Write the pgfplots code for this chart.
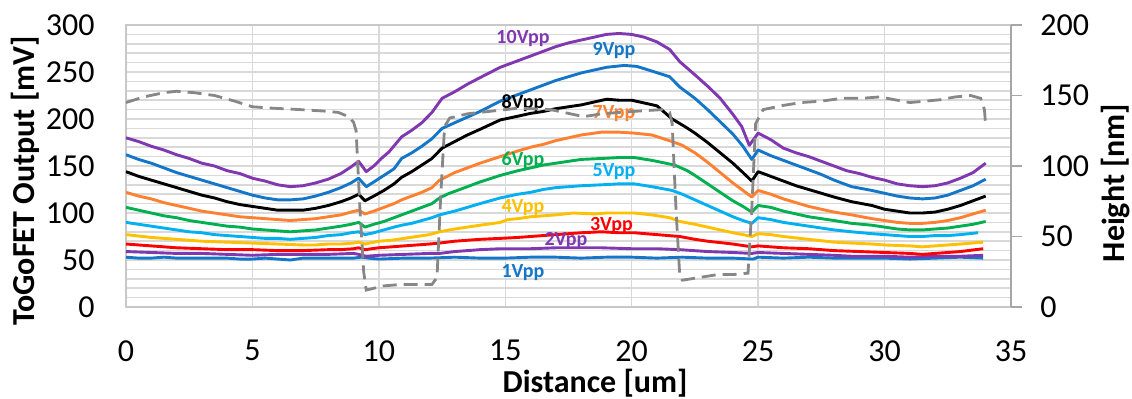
\documentclass[border=0pt]{standalone}
\usepackage{fontspec}
\setmainfont{Carlito}
\usepackage{pgfplots}
\pgfplotsset{compat=1.18}

\definecolor{cPurple}{RGB}{128,56,176}
\definecolor{cBlue}{RGB}{20,118,200}
\definecolor{cOrange}{RGB}{255,128,48}
\definecolor{cGreen}{RGB}{0,176,80}
\definecolor{cCyan}{RGB}{0,176,240}
\definecolor{cYellow}{RGB}{255,192,0}
\definecolor{cRed}{RGB}{255,0,0}
\definecolor{cGrid}{RGB}{217,217,217}
\definecolor{cAxis}{RGB}{200,200,200}
\definecolor{cAxisDark}{RGB}{166,166,166}
\definecolor{cHeight}{RGB}{135,135,135}

\pgfplotsset{
  common/.style={
    at={(0,0)}, anchor=south west,
    scale only axis, width=442.5pt, height=141pt,
    xmin=0, xmax=35,
    /pgf/number format/assume math mode=true,
    ticklabel style={font=\fontsize{16}{19}\selectfont, inner sep=0pt},
    label style={font=\bfseries\fontsize{16}{19}\selectfont},
  },
  sig/.style={line width=1.45pt, line join=round},
}

\begin{document}
\begin{tikzpicture}
\path[use as bounding box] (-63pt,-45.5pt) rectangle (503pt,153.5pt);

% ToGoFET output for each drive amplitude
\begin{axis}[
  common,
  ymin=0, ymax=300,
  xtick={0,5,...,35}, ytick={0,50,...,300},
  minor ytick={10,20,...,290},
  grid=both,
  major grid style={cGrid, line width=0.75pt},
  minor grid style={cGrid, line width=0.75pt},
  axis line style={cAxis, line width=0.75pt},
  tick style={draw=none},
  yticklabel style={anchor=east, xshift=-15.5pt},
  xticklabel style={anchor=north, yshift=-16.5pt},
  xlabel={Distance [um]},
  ylabel={ToGoFET Output [mV]},
  xlabel style={at={([yshift=-42.5pt]axis description cs:0.53,0)}, anchor=base},
  ylabel style={at={([xshift=-45.5pt]axis description cs:0,0.447)}, anchor=base, rotate=0},
]
% 1 Vpp
\addplot[sig, cBlue] coordinates {(0,53)(0.5,52)(1,52)(1.5,53)(2,52)(3,52)(4,52)(4.5,51)(5,51)(5.5,52)(6,51)(6.5,50)(7,52)(8,52)(9,52)(9.3,53)(9.6,52)(10,51)(11,52)(12,52)(13,53)(14,52)(15,52)(16,53)(17,53)(18,52)(19,53)(20,53)(21,52)(22,53)(23,52)(24,52)(24.8,51)(25,53)(26,52)(27,53)(28,52)(29,52)(30,52)(31,51)(32,52)(33,53)(33.9,52)};
% 2 Vpp
\addplot[sig, cPurple] coordinates {(0,59)(1,58)(2,57)(3,57)(4,56)(5,55)(6,56)(7,56)(8,56)(9,57)(9.2,56)(9.5,54)(10,55)(11,56)(12,57)(12.4,57)(13,59)(14,61)(14.8,62)(16,62)(17,63)(18,63)(18.8,63)(20,62)(21,62)(21.9,61)(23,59)(24,58)(24.75,57)(25,58)(26,57)(27,56)(28,55)(28.7,54)(30,54)(31,53)(32,54)(33,54)(33.9,55)};
% 3 Vpp
\addplot[sig, cRed] coordinates {(0,67)(1,65)(2,63)(3,62)(4,61)(5,61)(6,60)(7,60)(8,61)(8.5,61)(9,62)(9.2,63)(9.45,61)(10,63)(11,65)(12,67)(12.4,68)(13,70)(14,72)(14.8,73)(15.5,74)(16,75)(17,77)(18,79)(18.8,80)(19.5,79)(20.1,79)(21,77)(21.9,75)(22.5,72)(23,70)(24,67)(24.75,64)(25,65)(26,63)(27,62)(28,60)(29,59)(30,58)(31,57)(31.5,56)(32,57)(33,59)(33.9,62)};
% 4 Vpp
\addplot[sig, cYellow] coordinates {(0,77)(1,74)(2,72)(3,70)(4,69)(5,68)(6,67)(7,66)(7.5,66)(8,67)(8.5,67)(9,68)(9.2,69)(9.45,67)(10,70)(10.5,71)(11,73)(11.5,75)(12,77)(12.4,80)(13,83)(13.5,85)(14,87)(14.8,90)(15.1,93)(15.5,94)(16,96)(16.5,97)(17,98)(17.7,100)(18.5,99)(19,100)(19.5,100)(20.1,100)(20.8,98)(21.5,95)(21.9,91)(22.5,88)(23,85)(23.5,82)(24,79)(24.4,77)(24.75,75)(25,78)(25.5,77)(26,75)(27,72)(28,69)(28.7,68)(29.5,67)(30,66)(31,65)(31.5,64)(32,65)(32.5,66)(33,67)(33.9,69)};
% 5 Vpp
\addplot[sig, cCyan] coordinates {(0,90)(0.5,88)(1,86)(1.5,84)(2,82)(2.5,80)(3,79)(3.5,77)(4,76)(4.5,75)(5,74)(5.5,73)(6,73)(6.5,72)(7,73)(7.5,74)(8,76)(8.5,77)(8.9,79)(9.2,80)(9.45,77)(9.8,79)(10.2,82)(10.6,85)(10.9,87)(11.3,89)(11.7,92)(12.1,95)(12.4,98)(12.7,100)(13,102)(13.5,106)(14,110)(14.8,116)(15.5,120)(16,122)(16.5,125)(17,127)(17.5,128)(18,129)(18.8,130)(19.5,131)(20.1,131)(20.8,128)(21.6,124)(22,120)(22.5,114)(23,108)(23.5,102)(24,96)(24.4,92)(24.75,89)(25,95)(25.5,93)(26,90)(26.5,88)(27,86)(27.5,84)(28,82)(28.7,80)(29.5,78)(30,77)(30.5,76)(31,75)(31.5,75)(32,76)(32.5,76)(33,77)(33.7,79)};
% 6 Vpp
\addplot[sig, cGreen] coordinates {(0,106)(0.5,103)(1,100)(1.5,97)(2,95)(2.5,92)(3,90)(3.5,88)(4,86)(4.5,85)(5,83)(5.5,82)(6,81)(6.5,80)(7,81)(7.5,82)(8,84)(8.5,86)(8.9,88)(9.2,90)(9.45,85)(9.8,88)(10.2,91)(10.6,95)(10.9,98)(11.3,102)(11.7,106)(12.1,110)(12.4,116)(12.7,120)(13,123)(13.5,128)(14,133)(14.8,140)(15.5,145)(16,148)(16.5,151)(17,153)(17.5,155)(18,157)(18.8,158)(19.5,159)(20.1,159)(20.8,156)(21.7,151)(22.2,145)(22.5,140)(23,131)(23.5,122)(24,113)(24.4,107)(24.75,101)(25,108)(25.5,106)(26,102)(26.5,99)(27,96)(27.5,94)(28,92)(28.7,89)(29.5,87)(30,85)(30.5,83)(31,82)(31.5,82)(32,83)(32.5,84)(33,86)(33.5,88)(34,91)};
% 7 Vpp
\addplot[sig, cOrange] coordinates {(0,122)(0.5,118)(1,115)(1.5,111)(2,108)(2.5,105)(3,102)(3.5,100)(4,98)(4.5,96)(5,95)(5.5,94)(6,93)(6.5,92)(7,93)(7.5,94)(8,96)(8.5,98)(8.9,101)(9.2,103)(9.45,99)(9.8,102)(10.2,106)(10.6,110)(10.9,114)(11.3,118)(11.7,122)(12.1,127)(12.4,135)(12.7,139)(13,143)(13.5,148)(14,153)(14.8,160)(15.5,166)(16,170)(16.5,173)(17,177)(17.5,180)(18,183)(18.8,186)(19.5,186)(20.1,185)(20.8,183)(21.6,176)(22,172)(22.5,164)(23,154)(23.5,143)(24,132)(24.4,124)(24.75,117)(25,124)(25.5,120)(26,115)(26.5,111)(27,107)(27.5,104)(28,101)(28.7,98)(29.5,94)(30,92)(30.5,90)(31,89)(31.5,89)(32,90)(32.5,92)(33,95)(33.5,99)(34,103)};
% 8 Vpp
\addplot[sig, black] coordinates {(0,144)(0.5,139)(1,135)(1.5,131)(2,127)(2.5,123)(3,119)(3.5,116)(4,112)(4.5,109)(5,107)(5.5,105)(6,103)(6.5,103)(7,103)(7.5,105)(8,108)(8.5,112)(8.9,116)(9.2,120)(9.45,113)(9.8,118)(10.2,124)(10.6,131)(10.9,138)(11.3,144)(11.7,151)(12.1,158)(12.5,169)(13,176)(13.5,183)(14,189)(14.8,199)(15.5,203)(16,206)(16.5,208)(17,211)(17.5,213)(18,215)(18.5,218)(19,221)(19.5,220)(20,220)(20.5,217)(21,214)(21.6,200)(22.1,192)(22.5,185)(23,175)(23.5,164)(24,153)(24.4,143)(24.75,134)(25,144)(25.5,139)(26,134)(26.5,129)(27,125)(27.5,121)(28,117)(28.7,112)(29.5,108)(30,104)(30.5,102)(31,100)(31.5,100)(32,101)(32.5,104)(33,108)(33.5,113)(34,118)};
% 9 Vpp
\addplot[sig, cBlue] coordinates {(0,162)(0.5,157)(1,153)(1.5,148)(2,143)(2.5,139)(3,135)(3.5,131)(4,127)(4.5,123)(5,119)(5.5,116)(6,114)(6.5,114)(7,115)(7.5,118)(8,122)(8.5,127)(8.9,132)(9.2,137)(9.5,128)(9.8,133)(10.2,140)(10.6,147)(10.9,158)(11.3,164)(11.7,171)(12.1,179)(12.5,190)(13,196)(13.5,202)(14,208)(14.8,219)(15.5,226)(16,231)(16.5,236)(17,241)(17.5,245)(18,249)(18.5,252)(19,255)(19.7,257)(20.2,256)(20.8,251)(21.5,245)(21.9,234)(22.5,222)(23,210)(23.5,197)(24,184)(24.4,171)(24.75,157)(25,167)(25.5,161)(26,156)(26.5,151)(27,146)(27.5,141)(28,135)(28.7,128)(29.5,124)(30,121)(30.5,118)(31,116)(31.5,115)(32,116)(32.5,119)(33,124)(33.5,129)(34,136)};
% 10 Vpp
\addplot[sig, cPurple] coordinates {(0,180)(0.5,176)(1,171)(1.5,167)(2,162)(2.5,158)(3,153)(3.5,150)(4,145)(4.5,142)(5,137)(5.5,134)(6,130)(6.5,128)(7,129)(7.5,132)(8,136)(8.5,142)(8.9,149)(9.2,155)(9.5,144)(9.8,150)(10.1,158)(10.4,165)(10.9,181)(11.3,188)(11.7,196)(12.1,207)(12.5,222)(13,229)(13.5,237)(14,244)(14.8,255)(15.5,262)(16,267)(16.5,272)(17,277)(17.5,281)(18,284)(18.5,287)(19,290)(19.5,291)(20,290)(20.5,287)(21,282)(21.5,274)(21.9,261)(22.5,247)(23,235)(23.5,222)(24,205)(24.35,192)(24.65,172)(25,185)(25.5,178)(26,169)(26.5,164)(27,160)(27.5,155)(28,150)(28.5,145)(29,142)(29.5,138)(30,135)(30.5,131)(31,129)(31.5,128)(32,129)(32.5,132)(33,137)(33.5,143)(34,153)};

\begin{scope}[font=\bfseries\fontsize{10}{12}\selectfont]
\node[text=cPurple] at (axis cs:15.7,286) {10Vpp};
\node[text=cBlue]   at (axis cs:19.3,273) {9Vpp};
\node[text=black]   at (axis cs:15.7,217) {8Vpp};
\node[text=cOrange] at (axis cs:19.3,206) {7Vpp};
\node[text=cGreen]  at (axis cs:15.7,156) {6Vpp};
\node[text=cCyan]   at (axis cs:19.3,144) {5Vpp};
\node[text=cYellow] at (axis cs:15.7,106) {4Vpp};
\node[text=cRed]    at (axis cs:19.2,87)  {3Vpp};
\node[text=cPurple] at (axis cs:17.4,71)  {2Vpp};
\node[text=cBlue]   at (axis cs:15.7,37)  {1Vpp};
\end{scope}
\end{axis}

% Surface height profile on the secondary axis
\begin{axis}[
  common,
  ymin=0, ymax=200,
  axis x line=none,
  axis y line*=right,
  ytick={0,50,...,200},
  tick align=outside,
  major tick length=5.5pt,
  ytick style={cAxisDark, line width=0.75pt},
  axis line style={cAxisDark, line width=0.75pt, -},
  yticklabel style={anchor=west, xshift=9pt},
  ylabel={Height [nm]},
  ylabel style={at={([xshift=56.5pt]axis description cs:1,0.44)}, anchor=base, rotate=0},
]
\addplot[line width=1.4pt, cHeight, dash pattern=on 7pt off 3.5pt] coordinates {(0,145)(0.7,149)(1.5,152)(2,153)(2.7,152)(3.5,150)(4.3,146)(5,142)(5.8,141)(6.9,140)(7.8,139)(8.4,138)(8.8,135)(9.0,131)(9.1,125)(9.25,70)(9.4,25)(9.5,12)(10.2,15)(10.9,16)(11.6,16)(12.1,16)(12.3,21)(12.45,80)(12.6,128)(12.8,134)(13.5,137)(14.5,139)(15.5,141)(16.8,140)(18.1,135)(18.8,137)(19.5,138)(20.3,139)(21.2,140)(21.5,138)(21.6,130)(21.75,70)(21.9,22)(22.0,19)(22.7,21)(23.4,23)(24.0,23)(24.6,24)(24.75,70)(24.9,130)(25.2,140)(26,143)(26.7,145)(27.5,146)(28.3,148)(29.1,148)(29.8,149)(30.4,147)(31,145)(31.6,146)(32.2,147)(32.8,149)(33.4,150)(33.8,148)(33.95,140)(34.0,128)};
\end{axis}
\end{tikzpicture}
\end{document}
